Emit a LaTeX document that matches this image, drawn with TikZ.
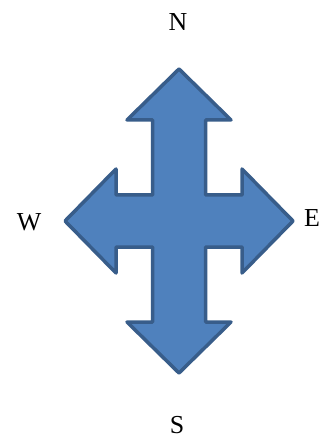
\documentclass[tikz,border=0pt]{standalone}
\usepackage{fontspec}
\setmainfont{Liberation Serif}
\definecolor{arrowfill}{HTML}{4F81BD}
\definecolor{arrowline}{HTML}{385D8A}
\begin{document}
\begin{tikzpicture}[x=1bp,y=-1bp,
    compass/.style={font=\fontsize{26}{30}\selectfont, inner sep=0pt}]
    \useasboundingbox (0,0) rectangle (326,439);
    % four-way arrow
    \begin{scope}[shift={(179,221)}]
    \draw[fill=arrowfill, draw=arrowline, line width=3.5bp, line join=round]
        (0,-152) -- (52,-101) -- (26.5,-101) -- (26.5,-26) -- (63,-26) -- (63,-52)
        -- (114,0) -- (63,52) -- (63,26) -- (26.5,26) -- (26.5,101) -- (52,101)
        -- (0,152) -- (-52,101) -- (-26.5,101) -- (-26.5,26) -- (-63,26) -- (-63,52)
        -- (-114,0) -- (-63,-52) -- (-63,-26) -- (-26.5,-26) -- (-26.5,-101) -- (-52,-101)
        -- cycle;
    \end{scope}
    \node[compass] (north) at (178,22.5) {N};
    \node[compass] (south) at (177,425.5) {S};
    \node[compass] (west) at (29,222) {W};
    \node[compass] (east) at (312,218) {E};
\end{tikzpicture}
\end{document}
